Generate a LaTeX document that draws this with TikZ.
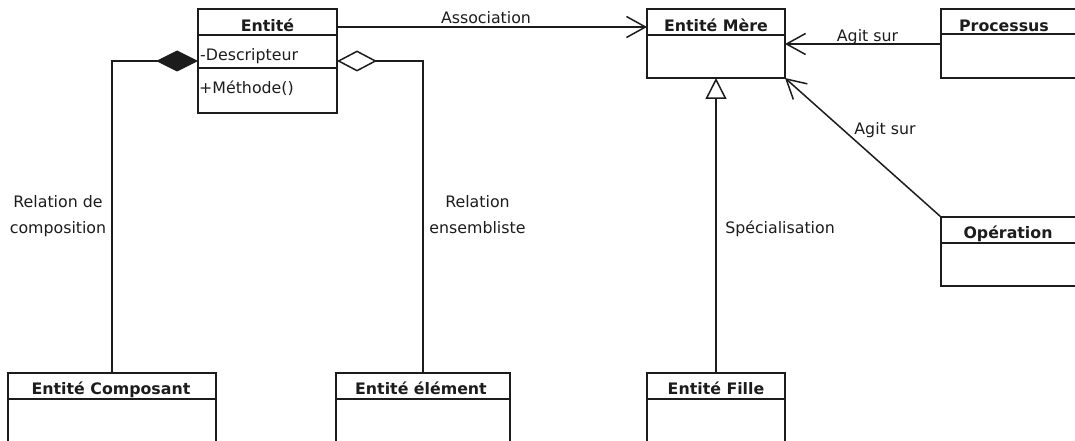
\documentclass[tikz,border=0pt]{standalone}
\usepackage{fontspec}
\setmainfont{DejaVu Sans}
\usetikzlibrary{arrows.meta}
\definecolor{umlline}{RGB}{28,28,28}
\begin{document}
\begin{tikzpicture}[x=1pt,y=-1pt,
  every node/.style={font=\fontsize{15.8}{19}\selectfont, text=umlline},
  classbox/.style={draw=umlline, line width=1.5pt, inner sep=0pt, outer sep=0pt, anchor=north west, rectangle},
  divider/.style={draw=umlline, line width=1.5pt},
  classname/.style={font=\fontsize{15.8}{19}\selectfont\bfseries, anchor=base, inner sep=0pt},
  member/.style={anchor=base west, inner sep=0pt},
  lbl/.style={anchor=base, inner sep=0pt},
  link/.style={draw=umlline, line width=1.5pt},
  assoc/.style={link, -{Straight Barb[length=19pt,width=21pt]}},
  compo/.style={link, {Diamond[length=42pt,width=21pt]}-},
  aggreg/.style={link, {Diamond[open,length=40pt,width=21pt]}-},
  generalize/.style={link, -{Triangle[open,length=21pt,width=21pt]}},
]
\useasboundingbox (0,0) rectangle (1075,441);
\clip (0,0) rectangle (1075,441);

% Entite
\node[classbox, minimum width=139pt, minimum height=104pt] (ent) at (198,9) {};
\draw[divider] ([yshift=-26pt]ent.north west) -- ([yshift=-26pt]ent.north east);
\draw[divider] ([yshift=-59pt]ent.north west) -- ([yshift=-59pt]ent.north east);
\node[classname] (entT) at (267.5,31.7) {Entité};
\node[member] (entA) at (200,60.3) {-Descripteur};
\node[member] (entM) at (199,93.3) {+Méthode()};

% Entite Mere
\node[classbox, minimum width=138pt, minimum height=69pt] (mere) at (647,9) {};
\draw[divider] ([yshift=-26pt]mere.north west) -- ([yshift=-26pt]mere.north east);
\node[classname] (mereT) at (716,31.7) {Entité Mère};

% Processus
\node[classbox, minimum width=160pt, minimum height=69pt] (proc) at (941,9) {};
\draw[divider] ([yshift=-25pt]proc.north west) -- ([yshift=-25pt]proc.north east);
\node[classname] (procT) at (1004,31.7) {Processus};

% Operation
\node[classbox, minimum width=160pt, minimum height=69pt] (oper) at (941,217) {};
\draw[divider] ([yshift=-26pt]oper.north west) -- ([yshift=-26pt]oper.north east);
\node[classname] (operT) at (1008,238.3) {Opération};

% Bottom classes
\node[classbox, minimum width=208pt, minimum height=90pt] (comp) at (8,373) {};
\draw[divider] ([yshift=-26pt]comp.north west) -- ([yshift=-26pt]comp.north east);
\node[classname] (compT) at (111,394) {Entité Composant};

\node[classbox, minimum width=174pt, minimum height=90pt] (elem) at (336,373) {};
\draw[divider] ([yshift=-26pt]elem.north west) -- ([yshift=-26pt]elem.north east);
\node[classname] (elemT) at (421,394) {Entité élément};

\node[classbox, minimum width=138pt, minimum height=90pt] (fille) at (647,373) {};
\draw[divider] ([yshift=-26pt]fille.north west) -- ([yshift=-26pt]fille.north east);
\node[classname] (filleT) at (716,394) {Entité Fille};

% Connectors
\draw[compo] (ent.west) -| (comp.north);
\draw[aggreg] (ent.east) -| (elem.north);
\draw[assoc] ([yshift=-18pt]ent.north east) -- ([yshift=-18pt]mere.north west);
\draw[assoc] ([yshift=-0.5pt]proc.west) -- ([yshift=-0.5pt]mere.east);
\draw[assoc] (oper.north west) -- (mere.south east);
\draw[generalize] (fille.north) -- (fille.north |- mere.south);

% Labels
\node[lbl] (assocL) at (486,23.5) {Association};
\node[lbl] (agit1) at (867.5,41.7) {Agit sur};
\node[lbl] (agit2) at (885,135) {Agit sur};
\node[lbl] (specL) at (780,233) {Spécialisation};
\node[lbl] (compL1) at (58,207.5) {Relation de};
\node[lbl] (compL2) at (58,233.5) {composition};
\node[lbl] (ensL1) at (477.5,207.5) {Relation};
\node[lbl] (ensL2) at (477.5,233.5) {ensembliste};
\end{tikzpicture}
\end{document}
